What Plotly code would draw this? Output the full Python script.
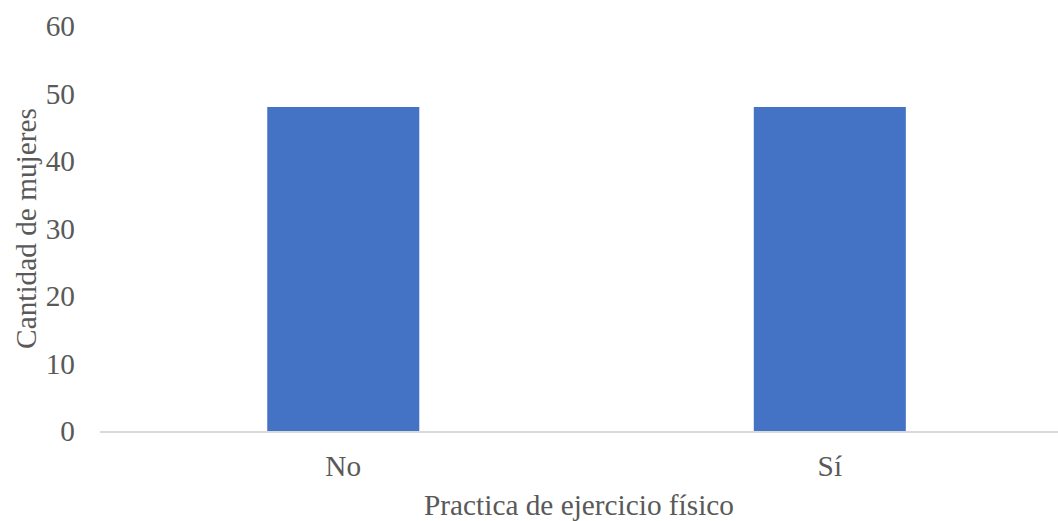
import plotly.graph_objects as go

categories = ["No", "Sí"]
values = [48, 48]
y_ticks = [0, 10, 20, 30, 40, 50, 60]

FONT = "Liberation Serif"
GREY = "#595959"

fig = go.Figure(go.Bar(
    x=categories, y=values, marker=dict(color="#4472C4", line=dict(width=0)),
    width=0.3125,
))

fig.update_layout(
    width=1058, height=521,
    margin=dict(l=100, r=0, t=26, b=90),
    paper_bgcolor="white", plot_bgcolor="white",
    font=dict(family=FONT, size=29.3, color=GREY),
    showlegend=False,
    xaxis=dict(
        range=[-0.5, 1.469], showline=True, linecolor="#D9D9D9", linewidth=1.5,
        showgrid=False, zeroline=False, ticks="", ticklabelstandoff=8,
        title=dict(text="Practica de ejercicio físico", standoff=14,
                   font=dict(family=FONT, size=29.3, color=GREY)),
        automargin=False,
    ),
    yaxis=dict(
        range=[0, 60], tickvals=y_ticks, showgrid=False, zeroline=False,
        showline=False, ticks="", ticklabelstandoff=24,
        title=dict(text="Cantidad de mujeres", standoff=0,
                   font=dict(family=FONT, size=29.3, color=GREY)),
        automargin=False,
    ),
)

fig.write_html("out.html")
